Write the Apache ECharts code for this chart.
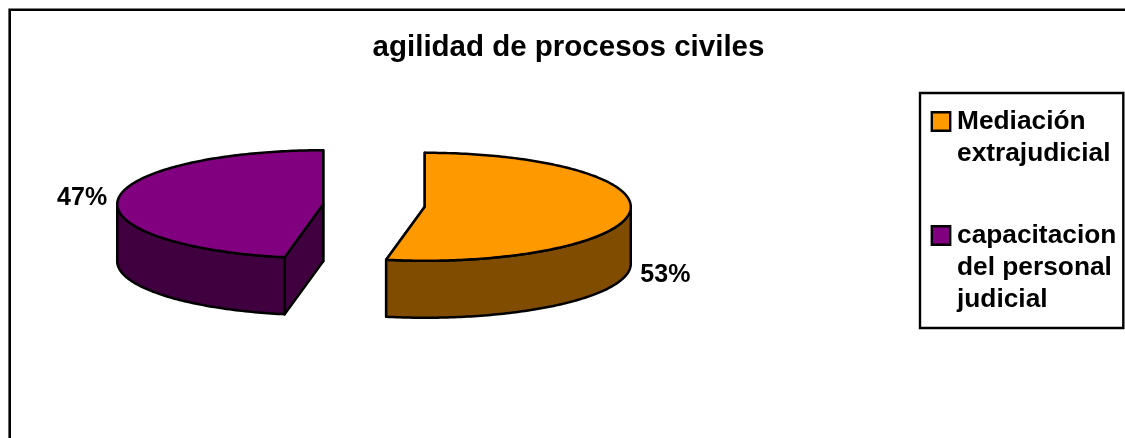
<!DOCTYPE html>
<html>
<head>
<meta charset="utf-8">
<title>agilidad de procesos civiles</title>
<style>
html,body{margin:0;padding:0;background:#fff;}
#chart{width:1125px;height:438px;}
</style>
<script src="https://cdn.jsdelivr.net/npm/echarts@6/dist/echarts.min.js"></script>
</head>
<body>
<div id="chart"></div>
<script>
// Chart content
const chartTitle = 'agilidad de procesos civiles';
const categories = ['Mediación extrajudicial', 'capacitacion del personal judicial'];
const shares = [53, 47];

// Legend text wrapped the way the box shows it
const legendLines = [['Mediación', 'extrajudicial'], ['capacitacion', 'del personal', 'judicial']];

// Colours of the top faces and the darker side walls
const topColors = ['#FF9900', '#800080'];
const sideColors = ['#7F4C00', '#400040'];
const labelOffsets = [[35.5, 63], [-36, -1]];

// Projection of the tilted pie
const FONT = '"Liberation Sans", Arial, sans-serif';
const cx = 374, cy = 205.5, rx = 206, ry = 54, depth = 57, explode = 51;
const total = shares.reduce((a, b) => a + b, 0);
const EDGE = { stroke: '#000', lineWidth: 2.5, lineJoin: 'round' };

function rimPoint(ox, oy, angle, drop) {
  return [ox + rx * Math.sin(angle), oy - ry * Math.cos(angle) + drop];
}

function arcPoints(ox, oy, from, to, drop) {
  const steps = Math.max(2, Math.ceil(Math.abs(to - from) * 60));
  const pts = [];
  for (let k = 0; k <= steps; k++) {
    pts.push(rimPoint(ox, oy, from + (to - from) * k / steps, drop));
  }
  return pts;
}

function sliceRenderer(index) {
  const before = shares.slice(0, index).reduce((a, b) => a + b, 0);
  return function (params, api) {
    const share = api.value(0);
    const start = before / total * Math.PI * 2;
    const end = (before + share) / total * Math.PI * 2;
    const mid = (start + end) / 2;
    // The slice is pulled away from the centre along its middle angle
    const ox = cx + explode * Math.sin(mid);
    const oy = cy - explode * (ry / rx) * Math.cos(mid);
    const poly = (points, fill) => ({
      type: 'polygon',
      shape: { points },
      style: Object.assign({ fill }, EDGE)
    });
    const cutFace = angle => poly([
      [ox, oy], rimPoint(ox, oy, angle, 0),
      rimPoint(ox, oy, angle, depth), [ox, oy + depth]
    ], sideColors[index]);

    const children = [cutFace(start), cutFace(end)];
    // Only the near half of the rim shows a wall
    const wallFrom = Math.max(start, Math.PI / 2);
    const wallTo = Math.min(end, Math.PI * 1.5);
    if (wallTo > wallFrom) {
      children.push(poly(
        arcPoints(ox, oy, wallFrom, wallTo, 0)
          .concat(arcPoints(ox, oy, wallTo, wallFrom, depth)),
        sideColors[index]
      ));
    }
    children.push(poly([[ox, oy]].concat(arcPoints(ox, oy, start, end, 0)), topColors[index]));

    const anchor = rimPoint(ox, oy, mid, 0);
    children.push({
      type: 'text',
      style: {
        text: share + '%',
        x: anchor[0] + labelOffsets[index][0],
        y: anchor[1] + labelOffsets[index][1],
        align: 'center',
        verticalAlign: 'middle',
        fill: '#000',
        font: 'bold 25px ' + FONT
      }
    });
    return { type: 'group', children };
  };
}

const legendRich = {
  txt: { fontSize: 26.3, fontWeight: 'bold', fontFamily: FONT, color: '#000', lineHeight: 32 },
  pad: { width: 24, height: 18, lineHeight: 32 },
  sp: { width: 8, lineHeight: 32 }
};
topColors.forEach((color, i) => {
  legendRich['sq' + i] = {
    width: 16, height: 16, backgroundColor: color,
    borderColor: '#000', borderWidth: 2.4, lineHeight: 32
  };
});

const chart = echarts.init(document.getElementById('chart'), null, { renderer: 'canvas' });
chart.setOption({
  backgroundColor: '#fff',
  animation: false,
  title: {
    text: chartTitle,
    left: 563.5,
    top: 28,
    textAlign: 'center',
    textStyle: { fontFamily: FONT, fontSize: 29.5, fontWeight: 'bold', color: '#000' }
  },
  legend: {
    orient: 'vertical',
    left: 920,
    top: 93,
    icon: 'none',
    itemWidth: 0,
    itemGap: 56,
    padding: [15.5, 7, 15.5, 8],
    backgroundColor: '#fff',
    borderColor: '#000',
    borderWidth: 2.4,
    borderRadius: 0,
    selectedMode: false,
    data: categories,
    formatter: name => {
      const i = categories.indexOf(name);
      return legendLines[i]
        .map((line, n) => (n === 0 ? `{sq${i}|}{sp|}` : '{pad|}') + `{txt|${line}}`)
        .join('\n');
    },
    textStyle: { rich: legendRich }
  },
  graphic: [{
    // Outer frame, running past the right and bottom of the page
    type: 'rect',
    silent: true,
    shape: { x: 9.7, y: 9.7, width: 1200, height: 500 },
    style: { fill: 'transparent', stroke: '#000', lineWidth: 2.6 },
    z: -1
  }],
  series: categories.map((name, i) => ({
    type: 'custom',
    name,
    coordinateSystem: 'none',
    silent: true,
    itemStyle: { color: topColors[i] },
    data: [[shares[i]]],
    renderItem: sliceRenderer(i)
  }))
});
</script>
</body>
</html>
